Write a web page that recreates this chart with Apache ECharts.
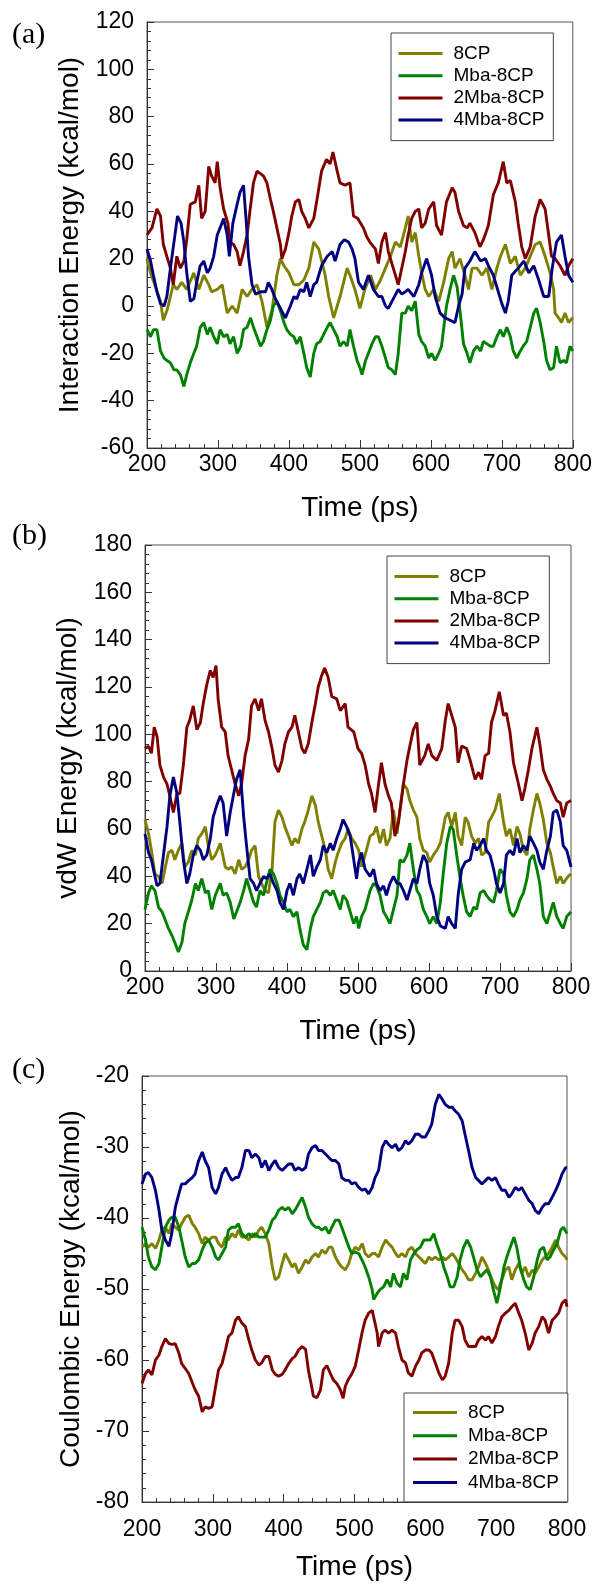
<!DOCTYPE html>
<html><head><meta charset="utf-8">
<script src="https://cdn.jsdelivr.net/npm/echarts@6/dist/echarts.min.js"></script>
<style>html,body{margin:0;padding:0;background:#fff}#chart{width:595px;height:1586px}</style>
</head><body><div id="chart"></div>
<script>
// ---------- data ----------
const seriesNames = ['8CP', 'Mba-8CP', '2Mba-8CP', '4Mba-8CP'];
const xTickValues = [200, 300, 400, 500, 600, 700, 800];
const panelLetters = ['(a)', '(b)', '(c)'];
const panelYTitles = ['Interaction Energy (kcal/mol)', 'vdW Energy (kcal/mol)', 'Coulombic Energy (kcal/mol)'];
const xTitle = 'Time (ps)';
const yTicksA = [-60, -40, -20, 0, 20, 40, 60, 80, 100, 120];
const yTicksB = [0, 20, 40, 60, 80, 100, 120, 140, 160, 180];
const yTicksC = [-80, -70, -60, -50, -40, -30, -20];

// Panel (a) Interaction energy  [time ps, kcal/mol]
const a_8CP = [[200,20],[205,14],[212,8],[219,2],[223,-6],[228,-2],[233,4],[237,9],[242,7],[249,10],[256,7],[266,14],[273,7],[280,13],[287,9],[291,6],[299,7],[306,9],[313,-3],[320,0],[327,-3],[334,7],[341,4],[348,7],[355,9],[362,2],[369,-9],[376,-2],[383,13],[388,20],[393,17],[400,14],[407,9],[414,9],[421,11],[428,16],[435,27],[442,24],[447,18],[451,13],[456,4],[463,-5],[472,4],[482,16],[486,13],[493,7],[500,-1],[507,7],[515,13],[522,7],[529,11],[536,16],[543,21],[550,27],[557,25],[564,33],[568,38],[573,27],[578,31],[583,21],[587,14],[592,7],[597,4],[604,7],[611,2],[618,10],[625,20],[630,23],[634,16],[641,20],[648,13],[653,7],[658,16],[665,16],[672,13],[679,16],[686,7],[693,16],[698,21],[705,26],[712,18],[719,21],[726,13],[733,16],[740,21],[747,26],[754,27],[761,21],[768,14],[773,7],[775,-3],[780,-5],[784,-7],[789,-3],[794,-7],[800,-5]];
const a_Mba = [[200,-10],[205,-13],[209,-10],[214,-10],[219,-19],[224,-22],[228,-23],[233,-24],[238,-27],[242,-27],[247,-29],[252,-34],[256,-29],[261,-24],[266,-20],[270,-17],[275,-9],[280,-7],[285,-12],[289,-9],[294,-13],[299,-16],[303,-10],[308,-13],[313,-12],[317,-16],[322,-13],[327,-20],[332,-17],[336,-10],[341,-9],[346,-5],[350,-9],[355,-13],[360,-17],[364,-15],[369,-10],[374,-6],[378,0],[383,2],[388,-2],[393,-7],[397,-10],[402,-12],[407,-13],[411,-16],[416,-13],[421,-20],[425,-26],[430,-30],[435,-20],[439,-16],[444,-15],[449,-12],[454,-9],[458,-7],[463,-10],[468,-13],[472,-17],[477,-15],[482,-17],[486,-10],[491,-17],[496,-23],[500,-26],[503,-29],[508,-23],[512,-20],[517,-16],[522,-13],[526,-13],[531,-17],[536,-22],[540,-26],[545,-27],[550,-29],[554,-20],[559,-3],[564,-3],[568,0],[573,-2],[578,2],[583,-12],[587,-15],[592,-17],[597,-22],[601,-20],[606,-23],[611,-20],[615,-17],[619,-7],[622,0],[627,7],[632,13],[637,8],[641,-2],[646,-16],[651,-20],[655,-24],[660,-19],[665,-17],[670,-19],[674,-15],[679,-16],[684,-17],[688,-17],[693,-13],[698,-10],[702,-13],[707,-9],[712,-13],[716,-19],[721,-22],[726,-19],[730,-17],[735,-15],[740,-9],[745,-3],[749,-1],[754,-7],[759,-15],[763,-23],[768,-27],[773,-26],[777,-17],[782,-24],[787,-23],[791,-24],[796,-17],[800,-19]];
const a_2Mba = [[200,30],[207,33],[214,41],[219,38],[223,26],[228,21],[233,16],[237,9],[242,21],[247,16],[252,19],[256,28],[261,43],[268,44],[273,51],[277,37],[282,40],[287,59],[291,55],[296,52],[299,61],[303,50],[308,41],[314,35],[317,27],[322,26],[327,23],[331,17],[336,23],[341,30],[345,40],[350,52],[355,57],[364,55],[369,52],[374,45],[378,40],[383,33],[388,26],[390,20],[395,24],[400,31],[404,38],[409,44],[414,45],[418,40],[423,37],[428,33],[435,37],[439,44],[446,57],[453,62],[458,60],[462,65],[468,57],[472,52],[479,51],[486,52],[491,38],[497,37],[505,33],[510,29],[514,27],[522,24],[526,18],[531,27],[536,31],[540,23],[547,16],[554,9],[559,16],[564,23],[568,30],[573,37],[578,40],[583,41],[587,33],[592,35],[597,41],[604,44],[608,34],[615,30],[622,44],[630,50],[634,48],[639,40],[646,34],[651,33],[655,35],[662,31],[669,25],[674,28],[681,34],[688,47],[695,52],[702,61],[707,52],[712,53],[719,44],[723,35],[728,25],[733,20],[740,25],[747,38],[754,45],[761,41],[766,30],[770,21],[775,20],[782,17],[789,13],[794,17],[800,20]];
const a_4Mba = [[200,24],[205,19],[209,13],[214,6],[219,1],[224,0],[228,4],[233,16],[238,27],[243,38],[248,35],[252,27],[256,14],[261,2],[266,3],[270,10],[275,17],[280,19],[285,14],[289,16],[294,21],[299,30],[303,33],[308,37],[313,30],[316,21],[321,35],[327,43],[331,48],[336,51],[340,35],[343,21],[348,9],[353,5],[360,6],[367,6],[371,10],[376,7],[381,3],[388,-1],[395,-5],[402,0],[407,4],[411,3],[416,7],[421,6],[425,10],[430,4],[435,9],[439,10],[446,17],[454,21],[461,23],[465,19],[472,26],[478,28],[484,27],[489,24],[493,20],[498,10],[505,7],[512,13],[519,7],[526,4],[531,4],[536,0],[540,-1],[547,3],[554,7],[559,5],[564,6],[568,7],[576,4],[583,9],[587,14],[594,20],[601,13],[606,4],[613,-3],[620,-5],[627,-6],[634,-7],[639,0],[644,5],[648,16],[655,19],[662,23],[670,19],[677,20],[681,17],[688,13],[695,6],[700,1],[705,-3],[709,2],[714,13],[723,16],[731,19],[738,14],[745,17],[752,11],[759,4],[766,4],[771,16],[777,27],[784,30],[789,21],[794,13],[800,10]];

// Panel (b) vdW energy
const b_8CP = [[200,64],[205,58],[209,51],[214,41],[219,40],[224,37],[228,43],[233,50],[238,51],[242,47],[247,51],[252,54],[256,44],[261,46],[266,51],[271,49],[275,56],[280,58],[285,61],[289,53],[294,47],[299,49],[306,54],[313,44],[317,43],[322,44],[327,41],[332,47],[336,43],[341,44],[346,47],[350,51],[355,53],[360,40],[364,37],[369,34],[374,33],[379,43],[383,63],[388,68],[393,65],[397,61],[402,57],[407,53],[411,56],[416,54],[421,60],[425,63],[430,68],[435,74],[440,70],[444,63],[449,57],[454,51],[458,43],[463,39],[468,46],[472,50],[477,54],[482,56],[486,60],[491,56],[496,54],[501,51],[505,44],[510,49],[517,57],[522,58],[526,61],[531,54],[536,60],[540,53],[545,56],[550,68],[555,58],[559,68],[564,79],[569,77],[573,72],[578,68],[583,65],[587,56],[592,51],[597,50],[601,46],[606,49],[611,51],[616,54],[623,65],[627,67],[632,61],[637,67],[641,57],[646,53],[651,65],[655,63],[660,57],[665,54],[670,56],[674,49],[679,50],[684,63],[688,65],[693,68],[699,75],[705,63],[709,57],[714,60],[719,53],[724,61],[728,58],[733,51],[738,49],[742,60],[747,68],[752,75],[756,71],[761,64],[766,54],[771,50],[775,44],[780,37],[785,40],[789,37],[796,40],[800,41]];
const b_Mba = [[200,26],[205,33],[209,36],[214,34],[219,27],[224,25],[228,22],[233,18],[238,15],[242,12],[247,8],[252,12],[256,20],[261,25],[266,30],[271,37],[275,34],[280,39],[285,33],[289,34],[294,26],[299,32],[306,37],[310,32],[315,33],[320,29],[325,22],[329,25],[334,29],[339,34],[343,39],[348,34],[353,29],[357,27],[362,34],[367,32],[371,37],[376,43],[381,41],[386,37],[390,32],[395,29],[400,25],[404,26],[409,23],[414,25],[418,18],[423,11],[428,9],[433,18],[437,23],[442,26],[447,29],[451,33],[456,34],[461,32],[465,34],[470,30],[475,26],[479,32],[484,30],[489,25],[494,20],[498,23],[501,18],[505,23],[510,26],[517,34],[522,37],[526,36],[531,32],[536,25],[540,23],[545,20],[550,26],[555,32],[559,47],[564,46],[569,49],[573,54],[578,43],[583,34],[587,32],[592,26],[597,23],[601,20],[606,23],[611,20],[616,29],[620,41],[625,54],[630,61],[634,60],[639,49],[644,39],[648,32],[653,25],[658,23],[663,27],[667,26],[672,33],[677,34],[681,32],[686,30],[691,29],[695,34],[700,43],[705,41],[709,32],[714,25],[719,23],[724,26],[728,30],[733,33],[738,39],[742,47],[747,49],[752,43],[756,37],[761,23],[766,20],[771,25],[775,29],[780,23],[785,20],[789,18],[794,23],[800,25]];
const b_2Mba = [[200,94],[205,95],[209,92],[213,103],[217,99],[221,87],[226,82],[231,79],[235,74],[240,67],[245,75],[249,75],[254,87],[259,103],[263,106],[268,112],[273,102],[278,105],[282,113],[287,121],[292,127],[296,124],[300,129],[303,115],[308,103],[313,101],[317,91],[322,85],[327,79],[332,74],[336,79],[341,91],[346,98],[350,112],[355,115],[360,110],[364,115],[369,106],[374,101],[379,94],[383,87],[388,84],[393,89],[397,96],[402,101],[407,103],[411,108],[416,101],[421,94],[425,92],[430,96],[435,105],[440,113],[444,120],[449,125],[453,128],[458,124],[463,116],[470,115],[475,110],[482,113],[486,103],[494,101],[500,94],[505,92],[510,87],[515,79],[519,75],[524,67],[529,79],[533,88],[538,79],[543,74],[547,71],[552,57],[557,63],[564,79],[569,89],[573,95],[578,102],[583,105],[587,87],[594,91],[599,96],[604,91],[611,89],[618,94],[623,106],[627,113],[632,108],[637,103],[641,88],[646,95],[653,94],[658,89],[665,81],[670,84],[674,81],[679,91],[684,92],[688,105],[693,110],[699,118],[705,108],[709,109],[714,101],[719,88],[726,79],[731,72],[735,77],[740,85],[745,94],[752,103],[756,96],[761,85],[766,81],[771,78],[775,75],[780,72],[785,71],[789,65],[794,71],[800,72]];
const b_4Mba = [[200,58],[205,50],[209,47],[214,40],[217,36],[221,37],[226,49],[231,61],[235,74],[240,82],[245,75],[249,63],[254,47],[259,37],[263,41],[268,49],[273,53],[278,51],[282,47],[287,49],[292,56],[296,65],[301,70],[306,74],[310,71],[315,57],[320,67],[325,75],[329,81],[334,85],[339,65],[343,53],[348,39],[353,37],[357,34],[362,37],[367,40],[371,39],[376,41],[381,37],[386,34],[390,29],[395,26],[400,34],[404,37],[409,32],[414,39],[418,41],[423,37],[428,43],[433,49],[437,40],[442,44],[447,47],[451,53],[456,50],[461,54],[465,51],[470,56],[475,60],[479,64],[484,61],[489,57],[494,47],[498,39],[501,46],[505,50],[510,43],[517,40],[522,43],[526,37],[531,34],[536,36],[540,32],[545,37],[550,40],[555,37],[559,37],[564,34],[569,30],[573,34],[578,39],[583,37],[587,43],[592,49],[597,46],[601,37],[606,32],[611,23],[616,19],[623,18],[627,23],[632,20],[637,18],[641,32],[646,43],[651,46],[658,47],[663,54],[667,51],[672,53],[677,56],[681,51],[686,49],[691,43],[695,37],[700,33],[705,37],[709,49],[714,51],[719,49],[724,56],[728,50],[733,53],[738,51],[742,57],[747,54],[752,51],[756,46],[761,43],[766,51],[771,57],[775,67],[780,68],[785,63],[789,53],[794,51],[800,44]];

// Panel (c) Coulombic energy
const c_8CP = [[200,-44.1],[205,-43.6],[209,-44.1],[214,-43.6],[219,-44.3],[224,-43.1],[228,-41.7],[233,-41.3],[238,-42.2],[242,-40.8],[247,-41.3],[252,-41.7],[256,-40.8],[261,-39.9],[266,-39.6],[271,-40.8],[275,-41.3],[280,-42.2],[285,-43.6],[289,-42.7],[294,-43.1],[299,-42.7],[304,-42.7],[308,-43.6],[313,-44.1],[318,-42.7],[322,-43.1],[327,-42.2],[332,-42.7],[336,-41.7],[341,-42.7],[346,-42.7],[351,-43.1],[355,-42.2],[360,-42.7],[365,-41.7],[369,-41.3],[374,-42.2],[379,-43.6],[384,-46.9],[388,-48.7],[393,-48.3],[398,-46.4],[402,-45],[407,-45.9],[412,-46.9],[416,-46.4],[421,-47.8],[426,-46.9],[431,-45.9],[435,-46.4],[440,-45.5],[445,-45],[449,-45.5],[454,-44.5],[459,-45],[464,-44.1],[468,-44.1],[473,-45.5],[478,-46.4],[482,-46.9],[487,-47.3],[492,-46.4],[496,-45],[501,-44.1],[506,-44.5],[511,-43.6],[515,-45],[520,-45.5],[525,-45],[529,-45],[534,-45.5],[539,-44.1],[544,-43.1],[548,-43.6],[553,-44.1],[558,-45],[562,-45.5],[567,-45],[572,-45.5],[576,-44.5],[581,-44.1],[586,-45],[591,-45.5],[595,-45.9],[600,-46.4],[605,-45.5],[609,-45.9],[614,-45.5],[619,-45.9],[624,-45.5],[628,-45.9],[633,-45.5],[638,-45],[642,-45.5],[647,-46.4],[652,-47.3],[656,-47.8],[661,-48.7],[666,-48.7],[671,-47.8],[675,-46.9],[680,-45.5],[685,-46.4],[689,-47.3],[694,-48.7],[699,-49.7],[703,-50.1],[708,-48.7],[713,-47.3],[718,-46.9],[722,-48.7],[727,-47.3],[732,-46.4],[736,-47.8],[741,-46.9],[746,-48.3],[751,-47.3],[755,-47.8],[760,-46.9],[765,-45.9],[769,-45.5],[774,-45],[779,-44.1],[784,-43.1],[788,-44.1],[793,-45],[798,-45.5],[800,-45.9]];
const c_Mba = [[200,-41.3],[205,-43.1],[209,-45.5],[214,-46.9],[219,-47.3],[224,-46.4],[228,-44.1],[233,-41.3],[238,-40.3],[242,-39.9],[247,-39.9],[252,-41.3],[256,-43.1],[261,-45.5],[266,-46.9],[271,-46.4],[275,-46.4],[280,-45.9],[285,-44.5],[289,-43.6],[294,-43.1],[299,-44.1],[304,-45.5],[308,-45.9],[313,-45],[318,-44.1],[322,-41.7],[327,-41.3],[332,-41.3],[336,-40.8],[341,-42.2],[346,-42.7],[351,-42.2],[355,-42.7],[360,-42.2],[365,-42.7],[369,-42.7],[374,-42.7],[379,-41.7],[384,-40.3],[388,-39.9],[393,-38.9],[398,-38.5],[402,-38.9],[407,-38.5],[412,-39.4],[416,-38.9],[421,-38],[426,-37.1],[431,-38.5],[435,-39.9],[440,-40.8],[445,-41.3],[449,-41.3],[454,-41.7],[459,-41.3],[464,-42.2],[468,-41.3],[473,-40.3],[478,-40.3],[482,-41.3],[487,-42.7],[492,-44.1],[496,-45],[501,-44.8],[506,-45],[511,-46],[515,-46.9],[520,-48.3],[525,-50.1],[527,-51.5],[532,-50.6],[536,-50.1],[541,-49.7],[546,-48.7],[551,-49.7],[555,-47.8],[560,-49.2],[565,-49.7],[569,-47.8],[574,-48.7],[579,-45.9],[584,-45],[588,-44.5],[593,-44.1],[598,-43.1],[602,-43.1],[607,-43.1],[612,-42.2],[616,-43.6],[621,-45],[626,-46.9],[631,-48.3],[635,-49.7],[640,-49.7],[645,-48.3],[649,-45.9],[654,-44.1],[659,-43.1],[664,-44.1],[668,-45.5],[673,-47.3],[678,-48.3],[682,-47.8],[687,-47.3],[692,-48.3],[696,-50.1],[701,-52],[706,-49.7],[711,-46.9],[715,-45.5],[720,-44.1],[725,-42.7],[729,-44.1],[734,-46.9],[739,-48.7],[743,-49.7],[748,-50.1],[753,-48.3],[758,-45.9],[762,-44.5],[767,-44.1],[772,-45.9],[776,-45.5],[781,-44.5],[786,-43.6],[791,-41.7],[795,-41.3],[800,-42.2]];
const c_2Mba = [[200,-63.3],[205,-61.9],[209,-61.4],[214,-62.1],[219,-60],[224,-59.3],[228,-58.1],[233,-57],[238,-57.7],[242,-57.8],[247,-57.7],[252,-59],[256,-60.5],[261,-61.2],[266,-61.9],[271,-63.2],[275,-64.2],[280,-65.1],[285,-67.3],[289,-66.6],[294,-66.8],[299,-66.6],[304,-63.7],[308,-61.4],[313,-60.5],[318,-58.5],[322,-56.7],[327,-56.2],[332,-54.4],[336,-53.9],[341,-54.8],[346,-55.3],[351,-57.2],[355,-58.6],[360,-60],[365,-60.7],[369,-60.4],[374,-59.5],[379,-59.5],[384,-61.4],[388,-62],[393,-62.3],[398,-62],[402,-61.4],[407,-60.5],[412,-59.8],[416,-59.5],[421,-58.6],[426,-58.1],[431,-58.5],[435,-61.5],[440,-64],[442,-65.1],[447,-65.3],[452,-64.2],[456,-61.4],[461,-60.8],[466,-61.9],[470,-62.8],[475,-63.3],[480,-64.2],[484,-65.4],[487,-63.7],[492,-62.6],[496,-62],[501,-60.9],[506,-58.5],[511,-56],[515,-54.4],[520,-53.4],[525,-53],[527,-53.9],[532,-56.2],[534,-58.1],[539,-56.2],[543,-55.8],[548,-56.2],[553,-55.8],[558,-56.2],[562,-58.1],[567,-60],[572,-60.4],[576,-61.8],[581,-62.3],[586,-60.9],[591,-60],[595,-59],[600,-58.6],[605,-58.6],[609,-59],[614,-60.4],[619,-61.8],[624,-62.8],[628,-62.3],[633,-60.4],[638,-56.2],[642,-54.4],[647,-54.4],[652,-55.3],[656,-57.2],[661,-58.1],[666,-58.1],[671,-58.1],[675,-57.2],[680,-56.7],[685,-57.2],[689,-56.7],[694,-57.6],[699,-56.7],[703,-55.3],[708,-53.9],[713,-53.4],[718,-53],[722,-52.5],[727,-52],[732,-53.4],[736,-54.4],[741,-56.2],[746,-58.6],[751,-57.6],[755,-56.2],[760,-55.3],[765,-53.9],[769,-54.4],[774,-56.2],[779,-54.4],[784,-53.9],[788,-53.4],[793,-52],[798,-51.5],[800,-52.5]];
const c_4Mba = [[200,-35.2],[205,-33.8],[209,-33.6],[214,-34.3],[219,-36.1],[224,-38.9],[228,-41.7],[233,-43.1],[238,-44],[242,-42.2],[247,-38.5],[252,-36.6],[256,-35.2],[261,-35.2],[266,-34.7],[271,-34.3],[275,-33.8],[280,-31.9],[285,-30.7],[289,-31.9],[294,-32.9],[299,-35.7],[304,-36.6],[308,-35.7],[313,-33.8],[318,-32.9],[322,-33.8],[327,-34.7],[332,-34.3],[336,-34.3],[341,-32.9],[346,-30.5],[351,-30.5],[355,-31.5],[360,-31],[365,-31.5],[369,-32.9],[374,-31.9],[379,-33.3],[384,-32.4],[388,-31.9],[393,-32.9],[398,-33.3],[402,-32.9],[407,-32.4],[412,-32.4],[416,-33.3],[421,-32.9],[426,-33.3],[431,-32.9],[435,-31],[440,-30.1],[445,-29.8],[449,-30.5],[454,-30.5],[459,-31],[464,-31.5],[468,-31.9],[473,-31.9],[478,-32.4],[482,-34.3],[487,-34.7],[492,-34.7],[496,-35.2],[501,-35],[506,-35.7],[511,-36.1],[515,-35.9],[520,-36.6],[525,-35.7],[529,-34.3],[534,-33.3],[539,-30.1],[544,-29.1],[548,-29.6],[553,-30.1],[558,-29.6],[562,-30.5],[567,-30.1],[572,-29.1],[576,-29.6],[581,-29.1],[586,-28.2],[591,-28.2],[595,-28.6],[600,-28.6],[605,-27.7],[609,-26.8],[614,-24],[619,-22.6],[624,-23.3],[628,-24],[633,-24.4],[638,-24.4],[642,-24.9],[647,-25.4],[652,-26.3],[656,-28.2],[661,-30.5],[666,-32.9],[671,-34.3],[675,-34.7],[680,-35.2],[685,-34.7],[689,-34.3],[694,-34.7],[699,-34.3],[703,-35.2],[708,-36.1],[713,-36.1],[718,-37.1],[722,-36.6],[727,-35.7],[732,-36.1],[736,-35.7],[741,-36.6],[746,-37.5],[751,-38],[755,-38.9],[760,-39.4],[765,-38.5],[769,-38],[774,-38],[779,-37.1],[784,-36.1],[788,-35.2],[793,-33.8],[798,-32.9],[800,-32.9]];

// ---------- styling / layout ----------
const FONT = "'Liberation Sans', Arial, Helvetica, sans-serif";
const SERIF = "'Liberation Serif', 'Times New Roman', serif";
const COLORS = ['#808000', '#008000', '#800000', '#000080'];
const AXIS_COLOR = '#333';

const panels = [
  { data: [a_8CP, a_Mba, a_2Mba, a_4Mba], yTicks: yTicksA,
    grid: { left: 147, top: 22, width: 426, height: 426 },
    yNameGap: 44, xLabelMargin: 5, xNameGap: 46,
    legend: { left: 391, top: 33, itemGap: 3.2, padding: [11, 9, 11, 7.5] },
    letterY: 35 },
  { data: [b_8CP, b_Mba, b_2Mba, b_4Mba], yTicks: yTicksB,
    grid: { left: 145, top: 545, width: 426, height: 426 },
    yNameGap: 42, xLabelMargin: 5, xNameGap: 46,
    legend: { left: 387, top: 556, itemGap: 3.2, padding: [11, 9, 11, 7.5] },
    letterY: 536 },
  { data: [c_8CP, c_Mba, c_2Mba, c_4Mba], yTicks: yTicksC,
    grid: { left: 142, top: 1076, width: 425, height: 426 },
    yNameGap: 42, xLabelMargin: 16, xNameGap: 51,
    legend: { left: 404, top: 1393, itemGap: 4.3, padding: [10, 9, 10, 9] },
    letterY: 1070 }
];

const option = {
  animation: false,
  backgroundColor: '#fff',
  grid: [], xAxis: [], yAxis: [], series: [], legend: [], graphic: []
};

panels.forEach((p, i) => {
  const yt = p.yTicks;
  option.grid.push(Object.assign({ show: true, borderColor: '#555', borderWidth: 1, backgroundColor: 'transparent' }, p.grid));
  option.xAxis.push({
    type: 'value', gridIndex: i,
    min: xTickValues[0], max: xTickValues[xTickValues.length - 1],
    interval: xTickValues[1] - xTickValues[0],
    name: xTitle, nameLocation: 'middle', nameGap: p.xNameGap,
    nameTextStyle: { fontSize: 28, color: '#000', fontFamily: FONT },
    axisLine: { show: true, onZero: false, lineStyle: { color: AXIS_COLOR, width: 1 } },
    axisTick: { show: true, inside: true, length: 8, lineStyle: { color: AXIS_COLOR } },
    minorTick: { show: true, splitNumber: 5, length: 4, lineStyle: { color: AXIS_COLOR } },
    axisLabel: { fontSize: 23, color: '#000', fontFamily: FONT, margin: p.xLabelMargin },
    splitLine: { show: false }
  });
  option.yAxis.push({
    type: 'value', gridIndex: i,
    min: yt[0], max: yt[yt.length - 1], interval: yt[1] - yt[0],
    name: panelYTitles[i], nameLocation: 'middle', nameGap: p.yNameGap,
    nameTextStyle: { fontSize: 28, color: '#000', fontFamily: FONT },
    axisLine: { show: true, onZero: false, lineStyle: { color: AXIS_COLOR, width: 1 } },
    axisTick: { show: true, inside: true, length: 7, lineStyle: { color: AXIS_COLOR } },
    minorTick: { show: true, splitNumber: 5, length: 4, lineStyle: { color: AXIS_COLOR } },
    axisLabel: { fontSize: 23, color: '#000', fontFamily: FONT, margin: 13 },
    splitLine: { show: false }
  });
  p.data.forEach((d, k) => {
    option.series.push({
      type: 'line', name: seriesNames[k], xAxisIndex: i, yAxisIndex: i,
      data: d, showSymbol: false, symbol: 'none', smooth: false,
      lineStyle: { color: COLORS[k], width: 2.9 }, itemStyle: { color: COLORS[k] },
      z: 2 + k
    });
  });
  option.legend.push({
    show: true, orient: 'vertical', left: p.legend.left, top: p.legend.top,
    itemWidth: 44, itemHeight: 3, itemGap: p.legend.itemGap, icon: 'rect',
    padding: p.legend.padding, borderColor: '#444', borderWidth: 1, borderRadius: 0,
    backgroundColor: '#fff', selectedMode: false,
    textStyle: { fontSize: 19, color: '#000', fontFamily: FONT, lineHeight: 19, padding: [0, 0, 0, 6] },
    data: seriesNames.slice()
  });
  option.graphic.push({
    type: 'text', x: 12, y: p.letterY,
    style: { text: panelLetters[i], font: '30px ' + SERIF, fill: '#000', verticalAlign: 'middle' }
  });
});

const chart = echarts.init(document.getElementById('chart'), null, { renderer: 'canvas' });
chart.setOption(option);
</script>
</body></html>
